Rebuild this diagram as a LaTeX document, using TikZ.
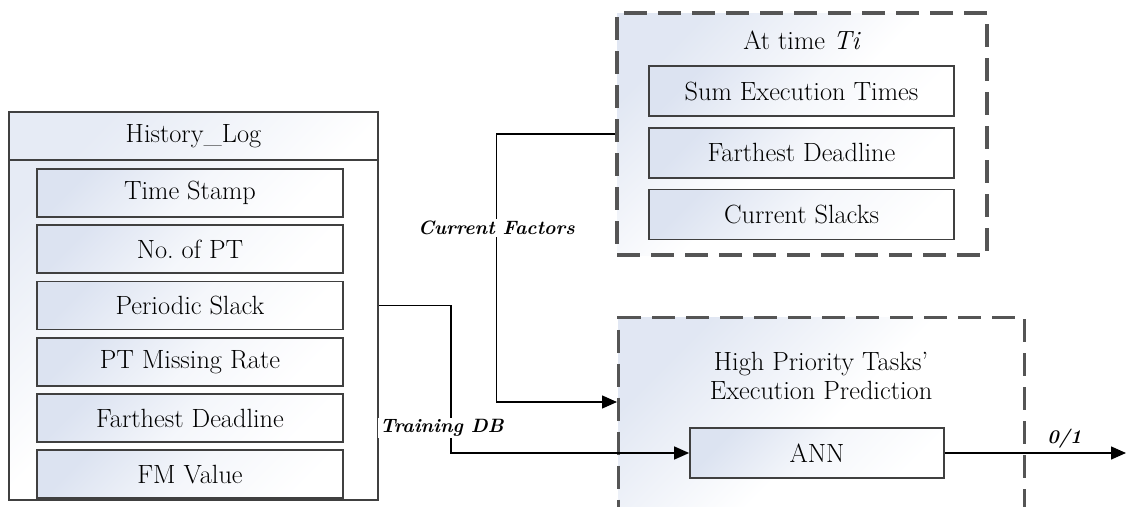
\documentclass[tikz,border=0pt]{standalone}
\usepackage{tikz}
\usetikzlibrary{arrows.meta, positioning, calc}

\definecolor{boxline}{HTML}{404040}
\definecolor{dashline}{HTML}{555555}
\definecolor{shadeblue}{HTML}{DCE3F1}

\tikzstyle{field} = [rectangle, minimum width=6.12cm, minimum height=0.96cm, text centered, draw=boxline, line width=1pt, top color=shadeblue, bottom color=white, middle color=shadeblue!30!white, shading angle=45]
\tikzstyle{panel} = [rectangle, draw=boxline, line width=1pt, top color=shadeblue!70!white, bottom color=white, middle color=white, shading angle=45]
\tikzstyle{group} = [rectangle, draw=dashline, line width=1.8pt, dash pattern=on 0.46cm off 0.22cm, top color=shadeblue!85!white, bottom color=white, middle color=white, shading angle=45]
\tikzstyle{arrow} = [line width=0.8pt, -{Triangle[length=0.3cm, width=0.26cm]}]
\tikzstyle{flow} = [font=\fontsize{11}{13}\selectfont\bfseries\itshape, fill=white, inner sep=1pt]

\begin{document}
\begin{tikzpicture}[node distance=0.13cm, font=\fontsize{15}{18}\selectfont]
  \clip (0,0) rectangle (22.54,10.12);

  % history log table
  \node (hist) [panel, minimum width=7.38cm, minimum height=7.76cm] at (3.87,4.00) {};
  \node (histtitle) at (3.87,7.39) {History\_Log};
  \draw[boxline, line width=1pt] ($(hist.north west)+(0,-0.98)$) -- ($(hist.north east)+(0,-0.98)$);
  \node (ts) [field] at (3.80,6.26) {Time Stamp};
  \node (npt) [field, below=of ts] {No.\ of PT};
  \node (ps) [field, below=of npt] {Periodic Slack};
  \node (pmr) [field, below=of ps] {PT Missing Rate};
  \node (fd) [field, below=of pmr] {Farthest Deadline};
  \node (fm) [field, below=of fd] {FM Value};

  % factors at time Ti
  \node (ti) [group, minimum width=7.40cm, minimum height=4.84cm] at (16.04,7.44) {};
  \node (tititle) at (16.04,9.32) {At time \textit{Ti}};
  \node (sum) [field, minimum width=6.10cm, minimum height=1.0cm] at (16.03,8.30) {Sum Execution Times};
  \node (cfd) [field, minimum width=6.10cm, minimum height=1.0cm, below=0.2cm of sum] {Farthest Deadline};
  \node (cs) [field, minimum width=6.10cm, minimum height=1.0cm, below=0.2cm of cfd] {Current Slacks};

  % prediction block
  \node (hp) [group, minimum width=8.12cm, minimum height=4.6cm, anchor=north west] at (12.34,3.80) {};
  \node (hptitle) [align=center, font=\fontsize{15}{16}\selectfont] at (16.42,2.60) {High Priority Tasks'\\Execution Prediction};
  \node (ann) [field, minimum width=5.08cm, minimum height=1.0cm] at (16.34,1.06) {ANN};
  \coordinate (hpin) at ($(hp.north west)+(0,-1.72)$);
  \coordinate (result) at (22.52,1.06);

  \draw[arrow] (ps.east -| hist.east) -- ++(1.44,0) coordinate (tbend) -- (tbend |- ann.west) node[flow, pos=0.83, xshift=-0.18cm] {Training DB} -- (ann.west);
  \draw[arrow] (ti.west) -- ++(-2.38,0) coordinate (cfbend) -- (cfbend |- hpin) node[flow, pos=0.35] {Current Factors} -- (hpin);
  \draw[arrow] (ann.east) -- (result) node[pos=0.66, above, font=\fontsize{11}{13}\selectfont\bfseries\itshape, inner sep=2pt] {0/1};
\end{tikzpicture}
\end{document}
